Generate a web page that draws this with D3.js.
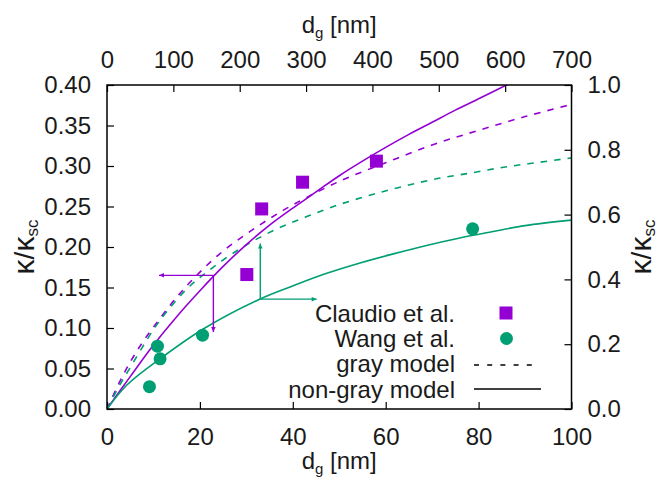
<!DOCTYPE html>
<html><head><meta charset="utf-8">
<script src="https://cdn.jsdelivr.net/npm/d3@7"></script>
<style>
body{margin:0;background:#fff}
svg{display:block}
text{font-family:"Liberation Sans",Arial,sans-serif;fill:#1a1a1a}
</style>
</head><body>
<svg id="chart" width="658" height="478"></svg>
<script>
// ---- tick values ----
const xTicks = [0, 20, 40, 60, 80, 100];               // bottom: d_g [nm]
const x2Ticks = [0, 100, 200, 300, 400, 500, 600, 700]; // top: d_g [nm]
const yTicks = [0, 0.05, 0.10, 0.15, 0.20, 0.25, 0.30, 0.35, 0.40]; // left
const y2Ticks = [0, 0.2, 0.4, 0.6, 0.8, 1.0];           // right

// ---- Claudio et al. (bottom / left axes) ----
const claudioD = [30.1, 33.3, 42.1, 58.0];
const claudioK = [0.166, 0.247, 0.280, 0.306];

// ---- Wang et al. (top / right axes) ----
const wangD = [64, 76, 80, 144, 551];
const wangK = [0.069, 0.194, 0.155, 0.228, 0.556];

// ---- models, purple (bottom / left axes) ----
const purpleGrayD = [0, 2.5, 5, 7.5, 10, 15, 20, 25, 30, 35, 40, 50, 60, 70, 80, 90, 100];
const purpleGrayK = [0, 0.031, 0.058, 0.081, 0.101, 0.138, 0.169, 0.195, 0.216, 0.235, 0.252, 0.281, 0.304, 0.326, 0.344, 0.361, 0.376];
const purpleNonGrayD = [0, 5, 10, 15, 20, 25, 30, 35, 40, 45, 50, 55, 60, 65, 70, 75, 80, 86, 90, 100];
const purpleNonGrayK = [0, 0.040, 0.079, 0.114, 0.146, 0.176, 0.203, 0.227, 0.248, 0.268, 0.288, 0.306, 0.323, 0.339, 0.354, 0.369, 0.383, 0.400, 0.411, 0.437];

// ---- models, green (top / right axes) ----
const greenGrayD = [0, 17.5, 35, 70, 90, 120, 150, 200, 250, 300, 350, 400, 450, 500, 550, 600, 650, 700];
const greenGrayK = [0, 0.068, 0.128, 0.245, 0.300, 0.370, 0.422, 0.494, 0.550, 0.593, 0.631, 0.662, 0.689, 0.712, 0.729, 0.747, 0.761, 0.775];
const greenNonGrayD = [0, 30, 80, 145, 230, 280, 330, 380, 430, 480, 530, 580, 630, 700];
const greenNonGrayK = [0, 0.074, 0.155, 0.247, 0.339, 0.380, 0.418, 0.450, 0.478, 0.504, 0.527, 0.547, 0.566, 0.583];

// ---- annotation arrows (pivot on each non-gray curve) ----
const purpleArrow = {x: 22.9, y: 0.165, toX: 11.2, toY: 0.095};   // bottom/left
const greenArrow  = {x: 231, y: 0.339, toX: 316, toY: 0.511};      // top/right

const legendLabels = ["Claudio et al.", "Wang et al.", "gray model", "non-gray model"];

const PURPLE = "#9400d3", GREEN = "#009e73";

// ---- layout ----
const L = 107, R = 571.5, T = 85, B = 409;
const svg = d3.select("#chart");
const x = d3.scaleLinear().domain([0, 100]).range([L, R]);
const x2 = d3.scaleLinear().domain([0, 700]).range([L, R]);
const y = d3.scaleLinear().domain([0, 0.4]).range([B, T]);
const y2 = d3.scaleLinear().domain([0, 1]).range([B, T]);

const defs = svg.append("defs");
defs.append("clipPath").attr("id", "clip")
  .append("rect").attr("x", L).attr("y", T).attr("width", R - L).attr("height", B - T);
[["ahP", PURPLE], ["ahG", GREEN]].forEach(([id, c]) => {
  defs.append("marker").attr("id", id).attr("viewBox", "0 0 10 10")
    .attr("refX", 10).attr("refY", 5).attr("markerWidth", 9).attr("markerHeight", 5)
    .attr("markerUnits", "userSpaceOnUse").attr("orient", "auto")
    .append("path").attr("d", "M0,0.5 L10,5 L0,9.5 Z").attr("fill", c);
});

const FS = 24;

// ---- axes ----
function styleAxis(g) {
  g.select(".domain").remove();
  g.selectAll(".tick line").attr("stroke", "#000").attr("stroke-width", 1.2);
  g.selectAll(".tick text").attr("font-size", FS).attr("fill", "#1a1a1a")
    .attr("font-family", '"Liberation Sans",Arial,sans-serif');
}
const tk = 7;
svg.append("g").attr("transform", `translate(0,${B})`)
  .call(d3.axisBottom(x).tickValues(xTicks).tickSize(-tk).tickPadding(tk + 12).tickFormat(d3.format("d")))
  .call(styleAxis);
svg.append("g").attr("transform", `translate(0,${T})`)
  .call(d3.axisTop(x2).tickValues(x2Ticks).tickSize(-tk).tickPadding(tk + 10).tickFormat(d3.format("d")))
  .call(styleAxis);
svg.append("g").attr("transform", `translate(${L},0)`)
  .call(d3.axisLeft(y).tickValues(yTicks).tickSize(-tk).tickPadding(tk + 9).tickFormat(d3.format(".2f")))
  .call(styleAxis);
svg.append("g").attr("transform", `translate(${R},0)`)
  .call(d3.axisRight(y2).tickValues(y2Ticks).tickSize(-tk).tickPadding(tk + 9).tickFormat(d3.format(".1f")))
  .call(styleAxis);

// ---- curves ----
const plot = svg.append("g").attr("clip-path", "url(#clip)");
function curve(D, K, xs, ys, color, dashed) {
  const pts = D.map((d, i) => [xs(d), ys(K[i])]);
  plot.append("path").attr("d", d3.line().curve(d3.curveCatmullRom.alpha(0.5))(pts))
    .attr("fill", "none").attr("stroke", color).attr("stroke-width", 1.6)
    .attr("stroke-dasharray", dashed ? "6.5,7" : null);
}
curve(purpleGrayD, purpleGrayK, x, y, PURPLE, true);
curve(greenGrayD, greenGrayK, x2, y2, GREEN, true);
curve(purpleNonGrayD, purpleNonGrayK, x, y, PURPLE, false);
curve(greenNonGrayD, greenNonGrayK, x2, y2, GREEN, false);

// ---- arrows ----
function arrow(x0, y0, x1, y1, color, mk) {
  svg.append("line").attr("x1", x0).attr("y1", y0).attr("x2", x1).attr("y2", y1)
    .attr("stroke", color).attr("stroke-width", 1.4).attr("marker-end", `url(#${mk})`);
}
arrow(x(purpleArrow.x), y(purpleArrow.y), x(purpleArrow.toX), y(purpleArrow.y), PURPLE, "ahP");
arrow(x(purpleArrow.x), y(purpleArrow.y), x(purpleArrow.x), y(purpleArrow.toY), PURPLE, "ahP");
arrow(x2(greenArrow.x), y2(greenArrow.y), x2(greenArrow.x), y2(greenArrow.toY), GREEN, "ahG");
arrow(x2(greenArrow.x), y2(greenArrow.y), x2(greenArrow.toX), y2(greenArrow.y), GREEN, "ahG");

// ---- points ----
const S = 13;
svg.append("g").selectAll("rect").data(claudioD).join("rect")
  .attr("x", (d) => x(d) - S / 2).attr("y", (d, i) => y(claudioK[i]) - S / 2)
  .attr("width", S).attr("height", S).attr("fill", PURPLE);
svg.append("g").selectAll("circle").data(wangD).join("circle")
  .attr("cx", (d) => x2(d)).attr("cy", (d, i) => y2(wangK[i]))
  .attr("r", 6.5).attr("fill", GREEN);

// ---- legend ----
const lgX = 455, lgBase = [321.5, 346.5, 372, 397.5];
legendLabels.forEach((t, i) => {
  svg.append("text").attr("x", lgX).attr("y", lgBase[i]).attr("text-anchor", "end")
    .attr("font-size", FS).text(t);
});
svg.append("rect").attr("x", 506 - S / 2).attr("y", 313 - S / 2).attr("width", S).attr("height", S).attr("fill", PURPLE);
svg.append("circle").attr("cx", 506.5).attr("cy", 338.5).attr("r", 6.5).attr("fill", GREEN);
svg.append("line").attr("x1", 474).attr("x2", 540).attr("y1", 365).attr("y2", 365)
  .attr("stroke", "#000").attr("stroke-width", 1.4).attr("stroke-dasharray", "5,8.2");
svg.append("line").attr("x1", 474).attr("x2", 541).attr("y1", 389).attr("y2", 389)
  .attr("stroke", "#000").attr("stroke-width", 1.4);

// ---- border ----
svg.append("rect").attr("x", L).attr("y", T).attr("width", R - L).attr("height", B - T)
  .attr("fill", "none").attr("stroke", "#000").attr("stroke-width", 1.5);

// ---- axis titles ----
function dgTitle(yb) {
  const t = svg.append("text").attr("x", (L + R) / 2).attr("y", yb).attr("text-anchor", "middle").attr("font-size", FS);
  t.append("tspan").text("d");
  t.append("tspan").attr("font-size", 15).attr("dy", 5).text("g");
  t.append("tspan").attr("dy", -5).text(" [nm]");
}
dgTitle(33);
dgTitle(469);
function kTitle(cx) {
  const t = svg.append("text").attr("transform", `translate(${cx},${(T + B) / 2}) rotate(-90)`)
    .attr("text-anchor", "middle").attr("font-size", 30);
  t.append("tspan").text("κ");
  t.append("tspan").attr("font-size", 28).text("/");
  t.append("tspan").text("κ");
  t.append("tspan").attr("font-size", 17).attr("dy", 4).text("sc");
}
kTitle(34);
kTitle(651);
</script>
</body></html>
